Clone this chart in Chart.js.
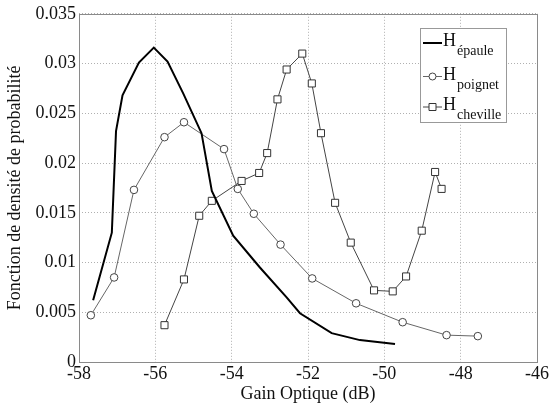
<!DOCTYPE html>
<html>
<head>
<meta charset="utf-8">
<script src="https://cdn.jsdelivr.net/npm/chart.js@4/dist/chart.umd.min.js"></script>
<style>
  html, body { margin: 0; padding: 0; background: #fff; }
  #wrap { width: 555px; height: 405px; position: relative; }
</style>
</head>
<body>
<div id="wrap"><canvas id="chart"></canvas></div>
<script>
// Gain optique (dB) / densité de probabilité
const epauleX = [-57.63, -57.14, -57.03, -56.86, -56.43, -56.04, -55.68, -55.27, -54.79, -54.52,
                 -53.96, -53.26, -52.56, -52.21, -51.38, -50.64, -49.72];
const epauleY = [0.0062, 0.0130, 0.0232, 0.0268, 0.0301, 0.0316, 0.0302, 0.0270, 0.0230, 0.0172,
                 0.0127, 0.0095, 0.0065, 0.0049, 0.0029, 0.0022, 0.0018];

const poignetX = [-57.69, -57.08, -56.56, -55.76, -55.25, -54.20, -53.84, -53.42, -52.72, -51.89,
                  -50.74, -49.52, -48.37, -47.55];
const poignetY = [0.0047, 0.0085, 0.0173, 0.0226, 0.0241, 0.0214, 0.0174, 0.0149, 0.0118, 0.0084,
                  0.0059, 0.0040, 0.0027, 0.0026];

const chevilleX = [-55.76, -55.25, -54.85, -54.52, -53.74, -53.28, -53.07, -52.80, -52.56, -52.15,
                   -51.90, -51.66, -51.29, -50.88, -50.27, -49.78, -49.43, -49.02, -48.67, -48.50];
const chevilleY = [0.0037, 0.0083, 0.0147, 0.0162, 0.0182, 0.0190, 0.0210, 0.0264, 0.0294, 0.0310,
                   0.0280, 0.0230, 0.0160, 0.0120, 0.0072, 0.0071, 0.0086, 0.0132, 0.0191, 0.0174];

const legendSubs = ['épaule', 'poignet', 'cheville'];

const serif = '"Liberation Serif", "Times New Roman", serif';

const toPoints = (xs, ys) => xs.map((x, i) => ({ x: x, y: ys[i] }));

// cadre + légende avec indices
const framePlugin = {
    id: 'frame',
    afterDraw(chart) {
        const ctx = chart.ctx;
        const a = chart.chartArea;
        ctx.save();
        ctx.strokeStyle = '#8a8a8a';
        ctx.lineWidth = 1;
        ctx.strokeRect(Math.round(a.left) + 0.5, Math.round(a.top) + 0.5,
                       Math.round(a.right - a.left), Math.round(a.bottom - a.top));

        // legend box
        const bx = 420.5, by = 28.5, bw = 86, bh = 94;
        ctx.fillStyle = '#fff';
        ctx.fillRect(bx, by, bw, bh);
        ctx.strokeStyle = '#999';
        ctx.strokeRect(bx, by, bw, bh);

        const rows = [43, 76.5, 107];
        chart.data.datasets.forEach((ds, i) => {
            const y = rows[i];
            ctx.strokeStyle = ds.borderColor;
            ctx.lineWidth = ds.borderWidth;
            ctx.beginPath();
            ctx.moveTo(423, y);
            ctx.lineTo(442, y);
            ctx.stroke();
            if (ds.pointRadius > 0) {
                ctx.lineWidth = 1;
                ctx.strokeStyle = ds.pointBorderColor;
                ctx.fillStyle = '#fff';
                ctx.beginPath();
                if (ds.pointStyle === 'rect') {
                    ctx.rect(429, y - 3.5, 7, 7);
                } else {
                    ctx.arc(432.5, y, 3.5, 0, Math.PI * 2);
                }
                ctx.fill();
                ctx.stroke();
            }
            ctx.fillStyle = '#111';
            ctx.textBaseline = 'alphabetic';
            ctx.font = '18px ' + serif;
            ctx.fillText('H', 443, y + 3);
            ctx.font = '14px ' + serif;
            ctx.fillText(legendSubs[i], 457, y + 12);
        });
        ctx.restore();
    }
};

new Chart(document.getElementById('chart'), {
    type: 'scatter',
    data: {
        datasets: [{
            label: 'H épaule',
            data: toPoints(epauleX, epauleY),
            showLine: true,
            borderColor: '#000',
            borderWidth: 2,
            pointRadius: 0,
            tension: 0
        },
        {
            label: 'H poignet',
            data: toPoints(poignetX, poignetY),
            showLine: true,
            borderColor: '#666',
            borderWidth: 1,
            pointStyle: 'circle',
            pointRadius: 3.8,
            pointBorderColor: '#444',
            pointBackgroundColor: '#fff',
            pointBorderWidth: 1
        },
        {
            label: 'H cheville',
            data: toPoints(chevilleX, chevilleY),
            showLine: true,
            borderColor: '#444',
            borderWidth: 1,
            pointStyle: 'rect',
            pointRadius: 5,
            pointBorderColor: '#333',
            pointBackgroundColor: '#fff',
            pointBorderWidth: 1
        }]
    },
    options: {
        responsive: true,
        maintainAspectRatio: false,
        animation: false,
        layout: { padding: { top: 12, right: 18, left: 0, bottom: 0 } },
        plugins: {
            legend: { display: false },
            tooltip: { enabled: false }
        },
        scales: {
            x: {
                type: 'linear',
                min: -58,
                max: -46,
                afterFit: (scale) => { scale.height = 43; },
                ticks: {
                    stepSize: 2,
                    color: '#111',
                    padding: 1,
                    font: { family: serif, size: 18 },
                    maxRotation: 0
                },
                grid: { color: '#b0b0b0', drawTicks: false },
                border: { display: false, dash: [1, 2] },
                title: {
                    display: true,
                    text: 'Gain Optique (dB)',
                    color: '#111',
                    font: { family: serif, size: 18 },
                    padding: { top: 0, bottom: 0 }
                }
            },
            y: {
                min: 0,
                max: 0.035,
                afterFit: (scale) => { scale.width = 79; },
                ticks: {
                    stepSize: 0.005,
                    color: '#111',
                    padding: 3,
                    font: { family: serif, size: 18 },
                    callback: (v) => Number(v.toFixed(3)).toString()
                },
                grid: { color: '#b0b0b0', drawTicks: false },
                border: { display: false, dash: [1, 2] },
                title: {
                    display: true,
                    text: 'Fonction de densité de probabilité',
                    color: '#111',
                    font: { family: serif, size: 18 },
                    padding: { top: 4, bottom: 0 }
                }
            }
        }
    },
    plugins: [framePlugin]
});
</script>
</body>
</html>
